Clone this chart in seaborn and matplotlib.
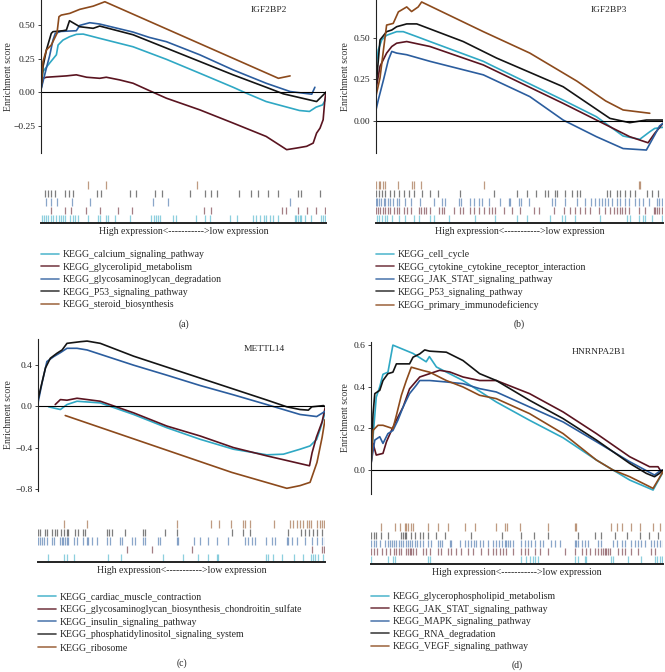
import seaborn as sns
import matplotlib.pyplot as plt
from matplotlib.lines import Line2D

# ---- colours of the five gene sets in every panel (legend order) ----
COLORS = ["#2fa8c4", "#5a1420", "#2b5d9e", "#141414", "#8c4a1c"]

# ---- panel (a) IGF2BP2 ----
A_GENE = "IGF2BP2"
A_SETS = ["KEGG_calcium_signaling_pathway", "KEGG_glycerolipid_metabolism",
          "KEGG_glycosaminoglycan_degradation", "KEGG_P53_signaling_pathway",
          "KEGG_steroid_biosynthesis"]
A_TICKS = [-0.25, 0.0, 0.25, 0.5]
A_YLIM = (-0.455, 0.69)

a_cal_x = [0, 0.7, 3, 5.4, 6, 7.7, 10, 12.4, 14.8, 20.6, 32.3, 44, 55.7, 67.4, 72, 79, 90.7, 94.2, 96.5, 98.8, 100]
a_cal_es = [0.02, 0.155, 0.217, 0.28, 0.353, 0.39, 0.415, 0.433, 0.435, 0.403, 0.34, 0.246, 0.142, 0.037, -0.007, -0.07, -0.137, -0.144, -0.112, -0.095, -0.05]
a_gly_x = [0, 0.7, 1.9, 8.9, 12.4, 16, 20.6, 22.9, 27.6, 32.3, 38, 44, 55.7, 67.4, 79, 86.2, 89.7, 93.2, 95.5, 96.7, 97.9, 99, 99.6, 100]
a_gly_es = [0.02, 0.104, 0.112, 0.122, 0.13, 0.112, 0.104, 0.112, 0.092, 0.067, 0.012, -0.045, -0.132, -0.231, -0.331, -0.43, -0.418, -0.405, -0.381, -0.306, -0.269, -0.206, -0.057, 0.0]
a_gag_x = [0, 2, 3, 4.2, 5, 7, 12.4, 13.6, 17.1, 20.6, 32.3, 38, 44, 55.7, 67.4, 79, 87.4, 95, 96.1]
a_gag_es = [0.02, 0.19, 0.27, 0.39, 0.44, 0.455, 0.46, 0.5, 0.52, 0.51, 0.45, 0.41, 0.378, 0.28, 0.167, 0.067, 0.005, -0.015, 0.037]
a_p53_x = [0, 0.7, 1.9, 3.6, 4.2, 7.7, 8.9, 10.0, 13.6, 18.3, 20.6, 32.3, 44.0, 55.7, 67.4, 79.0, 85.0, 96.7, 100]
a_p53_es = [0.02, 0.19, 0.316, 0.44, 0.453, 0.46, 0.465, 0.535, 0.49, 0.478, 0.495, 0.43, 0.33, 0.23, 0.13, 0.037, -0.012, -0.07, 0.0]
a_ste_x = [0.2, 0.7, 1.9, 3.6, 5.6, 6.3, 7.1, 10.1, 13.6, 18.3, 22.4, 83.3, 87.4]
a_ste_es = [0.067, 0.229, 0.316, 0.353, 0.44, 0.565, 0.577, 0.59, 0.62, 0.644, 0.677, 0.104, 0.122]

a_cal_hits = [0.4, 1.1, 1.9, 2.5, 3.4, 4.2, 5.4, 6.2, 7.1, 7.7, 8.3, 10.1, 11.2, 12.1, 13.0, 16.5, 20.0, 20.6, 22.9, 23.5,
              25.9, 31.1, 38.7, 39.7, 40.5, 41.1, 41.7, 46.3, 47.5, 54.5, 57.4, 59.2, 66.2, 68.9, 74.4, 75.6, 76.8, 78.3,
              79.1, 80.3, 81.4, 83.0, 89.0, 89.6, 90.2, 90.8, 91.4, 92.5, 94.9, 98.4, 99.0, 99.6]
a_gly_hits = [3.4, 8.3, 10.6, 15.9, 20.6, 27.0, 32.1, 57.2, 59.8, 84.7, 86.1, 90.0, 93.5, 96.4, 99.8]
a_gag_hits = [1.9, 3.6, 5.7, 11.0, 17.1, 39.3, 44.6, 87.5]
a_p53_hits = [1.3, 2.5, 3.6, 5.0, 8.3, 9.8, 11.2, 19.8, 20.9, 31.3, 33.5, 40.1, 42.5, 52.2, 57.4, 59.5, 61.8, 69.4, 73.8,
              76.1, 79.7, 83.2, 90.2, 91.3, 97.8]
a_ste_hits = [16.5, 22.7, 54.9]

# ---- panel (b) IGF2BP3 ----
B_GENE = "IGF2BP3"
B_SETS = ["KEGG_cell_cycle", "KEGG_cytokine_cytokine_receptor_interaction",
          "KEGG_JAK_STAT_signaling_pathway", "KEGG_P53_signaling_pathway",
          "KEGG_primary_immunodeficiency"]
B_TICKS = [0.0, 0.25, 0.5]
B_YLIM = (-0.196, 0.732)

b_cc_x = [0, 0.8, 2, 3.7, 7.2, 9.5, 14.2, 18.8, 37.4, 39.7, 65.2, 76.8, 86.1, 91.9, 95.4, 97.1, 100]
b_cc_es = [0.33, 0.43, 0.49, 0.518, 0.54, 0.54, 0.51, 0.48, 0.36, 0.34, 0.125, 0.024, -0.093, -0.113, -0.067, -0.047, -0.04]
b_cyt_x = [0, 1.4, 3.7, 5.5, 7.2, 10.7, 18.8, 37.4, 65.2, 76.8, 88.4, 94.8, 97.1, 100]
b_cyt_es = [0.19, 0.33, 0.41, 0.45, 0.47, 0.48, 0.45, 0.338, 0.105, 0.004, -0.097, -0.134, -0.077, -0.016]
b_jak_x = [0, 0.8, 2.6, 4.3, 5.5, 7.2, 10.7, 18.8, 37.4, 53.6, 65.2, 76.8, 86.1, 94.2, 97.1, 98.8, 100]
b_jak_es = [0.065, 0.126, 0.247, 0.368, 0.42, 0.41, 0.4, 0.36, 0.278, 0.146, 0.004, -0.097, -0.169, -0.178, -0.087, -0.032, -0.016]
b_p53_x = [0, 1.4, 3.7, 5.5, 7.2, 10.7, 14.2, 30.4, 42, 65.2, 81.5, 88.4, 94.2, 100]
b_p53_es = [0.2, 0.49, 0.54, 0.55, 0.57, 0.587, 0.587, 0.48, 0.38, 0.206, 0.014, -0.012, 0.004, 0.004]
b_pid_x = [0, 1.4, 2.6, 3.7, 6, 7.8, 10.7, 12.4, 14.7, 15.9, 37.4, 53.6, 70, 80, 86.1, 95.4]
b_pid_es = [0.15, 0.26, 0.43, 0.58, 0.59, 0.66, 0.69, 0.662, 0.69, 0.72, 0.54, 0.41, 0.24, 0.12, 0.065, 0.045]

b_cc_hits = [0.3, 1.2, 2.1, 3.0, 3.8, 5.6, 7.9, 10.2, 13.1, 14.9, 18.9, 20.1, 25.3, 34.6, 41.6, 49.1, 52.6, 60.7, 64.8,
             65.9, 69.4, 78.1, 87.4, 88.6, 91.5, 93.2, 93.8, 96.1, 99.6]
b_cyt_hits = [0, 0.7, 1.5, 2.3, 3.3, 4.2, 5.0, 6.2, 7.3, 7.9, 9.6, 10.8, 12.3, 14.9, 15.8, 16.6, 17.4, 18.9, 21.8, 23.0,
              23.6, 27.1, 29.4, 30.2, 32.9, 34.0, 35.8, 37.5, 39.2, 40.4, 41.6, 44.5, 47.4, 50.3, 54.9, 56.7, 61.9, 65.4,
              67.7, 69.4, 71.2, 72.9, 74.7, 77.6, 79.9, 81.6, 82.8, 83.9, 85.1, 85.7, 86.8, 88.0, 91.5, 93.8, 96.7, 97.3,
              97.9, 98.5, 99.6]
b_jak_hits = [0, 0.3, 0.9, 1.9, 2.7, 3.3, 4.2, 5.0, 5.8, 7.3, 7.9, 10.2, 12.3, 15.4, 20.1, 23.0, 23.9, 29.0, 29.7, 32.9,
              34.0, 36.0, 36.9, 39.5, 43.3, 46.2, 46.8, 49.7, 50.6, 53.2, 61.3, 62.5, 65.9, 70.0, 72.9, 75.0, 76.4, 77.6,
              78.7, 79.9, 81.0, 82.4, 83.9, 85.1, 86.8, 88.0, 90.3, 91.5, 93.2, 95.0, 97.9, 98.5, 99.6]
b_p53_hits = [0, 1.2, 2.1, 3.0, 5.0, 6.2, 7.9, 9.6, 11.4, 13.1, 16.0, 18.9, 21.6, 29.4, 41.0, 49.1, 52.6, 55.7, 59.0,
              60.1, 62.2, 63.0, 65.7, 68.3, 70.0, 71.2, 80.5, 81.6, 83.9, 85.1, 86.6, 88.6, 90.3, 94.4, 96.1, 98.4]
b_pid_hits = [0, 0.9, 1.5, 2.3, 3.0, 7.7, 12.5, 13.1, 15.8, 37.5, 91.5, 92.1]

# ---- panel (c) METTL14 ----
C_GENE = "METTL14"
C_SETS = ["KEGG_cardiac_muscle_contraction",
          "KEGG_glycosaminoglycan_biosynthesis_chondroitin_sulfate",
          "KEGG_insulin_signaling_pathway", "KEGG_phosphatidylinositol_signaling_system",
          "KEGG_ribosome"]
C_TICKS = [-0.8, -0.4, 0.0, 0.4]
C_YLIM = (-0.82, 0.65)

c_car_x = [3.7, 7.8, 10.1, 13.6, 21.7, 33.3, 44.9, 56.5, 68.1, 79.7, 85.5, 91.3, 94.8, 97.1, 98.3, 100]
c_car_es = [-0.006, -0.032, 0.016, 0.048, 0.032, -0.08, -0.208, -0.32, -0.416, -0.47, -0.464, -0.416, -0.384, -0.32, -0.224, -0.064]
c_cho_x = [6.0, 7.8, 10.1, 13.6, 21.7, 33.3, 44.9, 56.5, 68.1, 79.7, 94.6, 95.5, 97.0, 99.0, 100]
c_cho_es = [0.016, 0.064, 0.058, 0.077, 0.048, -0.064, -0.192, -0.288, -0.4, -0.48, -0.576, -0.45, -0.3, -0.15, -0.02]
c_ins_x = [0, 1.4, 3.1, 5.5, 7.8, 10.1, 13.6, 17.1, 33.3, 44.9, 56.5, 68.1, 79.7, 91.3, 97.1, 100]
c_ins_es = [0.032, 0.224, 0.432, 0.48, 0.518, 0.56, 0.56, 0.544, 0.397, 0.3, 0.2, 0.11, 0.016, -0.08, -0.1, -0.05]
c_pho_x = [0, 0.8, 2.6, 4.3, 6.6, 8.4, 10.1, 14.8, 17.1, 21.7, 33.3, 44.9, 56.5, 68.1, 79.7, 86.7, 91.3, 94.2, 95.4, 99.5, 100]
c_pho_es = [0.064, 0.16, 0.37, 0.464, 0.512, 0.544, 0.608, 0.624, 0.63, 0.608, 0.484, 0.378, 0.272, 0.166, 0.06, -0.006, -0.032, -0.038, -0.006, 0.006, -0.006]
c_rib_x = [9.5, 67.5, 86.7, 91.3, 94.8, 96.0, 97.2, 99.0, 100]
c_rib_es = [-0.09, -0.64, -0.794, -0.768, -0.736, -0.64, -0.544, -0.3, -0.13]

c_car_hits = [3.6, 9.2, 10.0, 12.7, 24.5, 28.9, 43.7, 50.6, 55.6, 59.3, 62.2, 62.8, 79.6, 80.2, 82.0, 85.1, 89.3, 92.4,
              95.1, 95.9, 96.5, 97.6, 99.4]
c_cho_hits = [30.9, 39.6, 53.8, 95.3, 98.8, 99.7]
c_ins_hits = [0.1, 0.7, 1.3, 2.2, 3.0, 4.8, 5.7, 7.7, 8.2, 8.8, 9.4, 10.0, 10.6, 12.7, 13.5, 15.8, 17.0, 17.5, 18.7,
              20.4, 23.9, 25.1, 28.6, 29.1, 32.6, 33.8, 36.7, 37.3, 41.9, 42.5, 48.3, 48.9, 54.5, 56.4, 59.3, 62.2,
              66.3, 72.1, 73.3, 74.4, 75.6, 79.6, 81.4, 82.5, 86.6, 87.2, 88.4, 90.1, 93.0, 95.3, 97.1, 98.8, 100]
c_pho_hits = [0, 0.7, 2.4, 3.0, 4.8, 5.9, 6.5, 8.0, 9.2, 10.0, 10.6, 12.9, 14.0, 15.8, 16.4, 23.9, 24.7, 25.7, 30.3,
              36.7, 37.3, 44.2, 48.3, 67.5, 71.5, 73.8, 87.2, 91.8, 93.0, 94.4, 95.9, 97.1, 98.8]
c_rib_hits = [9.2, 17.0, 48.3, 60.3, 63.2, 67.2, 71.3, 72.1, 73.9, 82.3, 87.8, 88.9, 90.1, 91.3, 92.4, 93.6, 94.4,
              95.1, 97.1, 98.2, 99.0, 99.7]

# ---- panel (d) HNRNPA2B1 ----
D_GENE = "HNRNPA2B1"
D_SETS = ["KEGG_glycerophospholipid_metabolism", "KEGG_JAK_STAT_signaling_pathway",
          "KEGG_MAPK_signaling_pathway", "KEGG_RNA_degradation",
          "KEGG_VEGF_signaling_pathway"]
D_TICKS = [0.0, 0.2, 0.4, 0.6]
D_YLIM = (-0.115, 0.615)

d_gpl_x = [0, 0.7, 1.8, 3, 4.1, 5.8, 7.5, 14.4, 18.9, 20, 22.4, 31.5, 42.9, 54.3, 65.8, 77.2, 88.6, 96.6, 100]
d_gpl_es = [0.03, 0.16, 0.35, 0.4, 0.46, 0.47, 0.6, 0.56, 0.52, 0.545, 0.495, 0.43, 0.327, 0.239, 0.155, 0.048, -0.048, -0.096, -0.01]
d_jak_x = [0, 0.7, 1.8, 4.1, 5.3, 7, 8.7, 11, 13.2, 16.7, 20.1, 23.5, 27, 31.5, 37.2, 42.9, 54.3, 65.8, 77.2, 88.6, 95.4, 98.3, 99.4, 100]
d_jak_es = [0.03, 0.128, 0.072, 0.08, 0.136, 0.19, 0.24, 0.303, 0.39, 0.447, 0.463, 0.479, 0.471, 0.447, 0.43, 0.43, 0.367, 0.279, 0.175, 0.064, 0.016, 0.016, -0.008, 0.0]
d_mapk_x = [0, 1.3, 3, 4.1, 5.8, 7.5, 9.2, 11, 13.2, 15.5, 16.7, 20.1, 25.8, 31.5, 37.2, 42.9, 54.3, 65.8, 77.2, 88.6, 97.1, 99.4]
d_mapk_es = [0.03, 0.144, 0.16, 0.128, 0.175, 0.19, 0.239, 0.303, 0.367, 0.407, 0.43, 0.43, 0.423, 0.415, 0.391, 0.375, 0.303, 0.231, 0.136, 0.04, -0.024, 0.0]
d_rna_x = [0, 0.7, 1.3, 3, 4.1, 5.8, 7.5, 8.7, 13.2, 14.4, 16.7, 18.4, 20.1, 25.8, 31.5, 37.2, 42.9, 54.3, 65.8, 77.2, 88.6, 94.3, 97.1, 98.8, 100]
d_rna_es = [0.05, 0.27, 0.367, 0.383, 0.43, 0.463, 0.47, 0.51, 0.51, 0.542, 0.558, 0.577, 0.571, 0.566, 0.526, 0.463, 0.43, 0.335, 0.247, 0.144, 0.032, -0.016, -0.032, -0.016, 0.0]
d_vegf_x = [0, 0.7, 2.4, 4.1, 7.5, 8.7, 10.4, 12.1, 13.8, 17.8, 20.1, 25.8, 31.5, 37.2, 42.9, 54.3, 65.8, 77.2, 82.9, 88.6, 96.6, 100]
d_vegf_es = [0.016, 0.191, 0.215, 0.215, 0.199, 0.263, 0.359, 0.43, 0.494, 0.478, 0.47, 0.43, 0.399, 0.359, 0.343, 0.271, 0.175, 0.048, 0.0, -0.032, -0.088, -0.008]

d_gpl_hits = [0.1, 5.8, 7.5, 8.1, 19.5, 20.1, 51.5, 53.2, 54.4, 55.5, 56.1, 57.2, 69.8, 70.9, 73.2, 73.8, 82.3, 82.9,
              88.0, 92.4, 97.2, 97.8, 98.9, 99.7]
d_jak_hits = [0, 1.0, 2.2, 3.8, 5.3, 6.4, 7.9, 8.7, 9.5, 10.4, 12.1, 12.7, 13.2, 13.8, 14.4, 15.5, 17.8, 19.0, 20.1,
              23.0, 24.1, 26.4, 27.3, 29.2, 30.9, 33.2, 34.9, 37.8, 40.1, 41.8, 42.9, 44.1, 45.2, 46.4, 48.6, 51.5,
              52.6, 53.8, 56.1, 57.8, 60.6, 66.4, 69.8, 72.1, 73.8, 74.9, 76.6, 77.8, 78.9, 79.5, 80.1, 80.6, 81.2,
              81.8, 84.6, 85.8, 86.9, 89.2, 91.5, 96.0, 97.2]
d_mapk_hits = [0.1, 1.0, 1.8, 3.0, 4.9, 5.8, 6.4, 7.2, 7.9, 8.7, 9.5, 10.2, 11.0, 12.1, 12.7, 13.2, 14.0, 15.0, 15.9,
               16.7, 17.8, 19.5, 20.7, 23.0, 23.5, 24.3, 27.0, 27.5, 30.4, 32.1, 33.2, 34.4, 35.3, 36.1, 37.2, 38.4,
               40.1, 41.8, 42.9, 43.7, 44.7, 45.8, 46.4, 46.9, 47.5, 48.6, 51.5, 52.6, 53.8, 54.9, 56.1, 57.8, 58.9,
               61.8, 62.9, 64.6, 69.8, 70.3, 70.9, 72.1, 73.2, 74.3, 77.8, 78.9, 82.9, 84.1, 85.8, 86.9, 89.2, 90.3,
               91.5, 92.6, 93.8, 96.0, 97.0, 97.8, 98.9, 100]
d_rna_hits = [0.1, 1.0, 1.8, 3.3, 5.8, 10.2, 11.0, 11.5, 12.1, 13.8, 15.2, 16.7, 17.8, 19.5, 22.4, 25.2, 34.4, 44.7,
              51.5, 55.8, 60.6, 70.9, 76.6, 78.9, 83.5, 87.5, 92.0, 95.1, 98.3]
d_vegf_hits = [3.3, 8.1, 9.8, 11.5, 12.1, 12.7, 13.6, 14.4, 19.5, 23.0, 26.4, 32.1, 35.5, 42.9, 45.8, 46.7, 50.9,
               60.6, 69.8, 70.3, 82.3, 84.4, 85.8, 89.2, 92.0, 96.6, 98.9]

PANELS = [
    dict(tag="(a)", gene=A_GENE, sets=A_SETS, ticks=A_TICKS, ylim=A_YLIM, fmt="{:.2f}",
         curves=[(a_cal_x, a_cal_es), (a_gly_x, a_gly_es), (a_gag_x, a_gag_es), (a_p53_x, a_p53_es), (a_ste_x, a_ste_es)],
         hits=[a_cal_hits, a_gly_hits, a_gag_hits, a_p53_hits, a_ste_hits],
         es_box=(41, 326, 0, 153), rug_box=(181, 223), leg_top=250, tag_y=324, gx=0.80, ylab_x=13),
    dict(tag="(b)", gene=B_GENE, sets=B_SETS, ticks=B_TICKS, ylim=B_YLIM, fmt="{:.2f}",
         curves=[(b_cc_x, b_cc_es), (b_cyt_x, b_cyt_es), (b_jak_x, b_jak_es), (b_p53_x, b_p53_es), (b_pid_x, b_pid_es)],
         hits=[b_cc_hits, b_cyt_hits, b_jak_hits, b_p53_hits, b_pid_hits],
         es_box=(376, 663, 0, 153), rug_box=(181, 223), leg_top=250, tag_y=324, gx=0.81, ylab_x=350),
    dict(tag="(c)", gene=C_GENE, sets=C_SETS, ticks=C_TICKS, ylim=C_YLIM, fmt="{:.1f}",
         curves=[(c_car_x, c_car_es), (c_cho_x, c_cho_es), (c_ins_x, c_ins_es), (c_pho_x, c_pho_es), (c_rib_x, c_rib_es)],
         hits=[c_car_hits, c_cho_hits, c_ins_hits, c_pho_hits, c_rib_hits],
         es_box=(38, 325, 339, 491), rug_box=(520, 562), leg_top=592, tag_y=663, gx=0.79, ylab_x=13),
    dict(tag="(d)", gene=D_GENE, sets=D_SETS, ticks=D_TICKS, ylim=D_YLIM, fmt="{:.1f}",
         curves=[(d_gpl_x, d_gpl_es), (d_jak_x, d_jak_es), (d_mapk_x, d_mapk_es), (d_rna_x, d_rna_es), (d_vegf_x, d_vegf_es)],
         hits=[d_gpl_hits, d_jak_hits, d_mapk_hits, d_rna_hits, d_vegf_hits],
         es_box=(371, 663, 342, 494), rug_box=(523, 564), leg_top=592, tag_y=665, gx=0.78, ylab_x=350),
]

W, H = 665, 672

sns.set_style("white")
plt.rcParams["font.family"] = ["Liberation Serif", "DejaVu Serif"]
plt.rcParams["axes.unicode_minus"] = True

fig = plt.figure(figsize=(W / 100, H / 100), dpi=100)


def box(x0, x1, y0, y1):
    return [x0 / W, 1 - y1 / H, (x1 - x0) / W, (y1 - y0) / H]


for p in PANELS:
    x0, x1, y0, y1 = p["es_box"]
    ax = fig.add_axes(box(x0, x1, y0, y1))
    for (xs, es), col in zip(p["curves"], COLORS):
        sns.lineplot(x=xs, y=es, ax=ax, color=col, lw=1.2, sort=False, estimator=None)
    ax.axhline(0, color="black", lw=0.8)
    ax.set_xlim(0, 100)
    ax.set_ylim(*p["ylim"])
    ax.set_yticks(p["ticks"])
    ax.set_yticklabels([p["fmt"].format(t).replace("-", "\u2212") for t in p["ticks"]])
    ax.set_xticks([])
    for s in ["top", "right", "bottom"]:
        ax.spines[s].set_visible(False)
    ax.spines["left"].set_color("#222222")
    ax.spines["left"].set_linewidth(0.8)
    ax.tick_params(axis="y", direction="out", length=2.5, width=0.6, labelsize=6.8, pad=1.5,
                   left=True, colors="#222222")
    ax.set_ylabel("Enrichment score", fontsize=7, color="#333333")
    ax.yaxis.set_label_coords((p["ylab_x"] - x0) / (x1 - x0), 0.5)
    ax.text(p["gx"], 0.935, p["gene"], transform=ax.transAxes, fontsize=6.8, ha="center", va="center")

    r0, r1 = p["rug_box"]
    rug = fig.add_axes(box(x0, x1, r0, r1))
    for i, (hits, col) in enumerate(zip(p["hits"], COLORS)):
        rug.vlines(hits, i + 0.05, i + 0.95, color=col, lw=0.9, alpha=0.55)
    rug.set_xlim(0, 100)
    rug.set_ylim(0, 5)
    rug.set_xticks([])
    rug.set_yticks([])
    for s in ["top", "right", "left"]:
        rug.spines[s].set_visible(False)
    rug.spines["bottom"].set_color("#222222")
    rug.spines["bottom"].set_linewidth(1.4)
    rug.set_xlabel("High expression<----------->low expression", fontsize=7, labelpad=3)

    handles = [Line2D([], [], color=c, lw=1.2, alpha=0.8) for c in COLORS]
    fig.legend(handles, p["sets"], loc="upper left", bbox_to_anchor=(x0 / W, 1 - p["leg_top"] / H),
               frameon=False, fontsize=7, handlelength=1.8, handletextpad=0.45, labelspacing=0.37,
               borderpad=0, borderaxespad=0)
    fig.text((x0 + x1) / 2 / W, 1 - p["tag_y"] / H, p["tag"], fontsize=7, ha="center", va="center")

fig.savefig("out.png", dpi=100)
